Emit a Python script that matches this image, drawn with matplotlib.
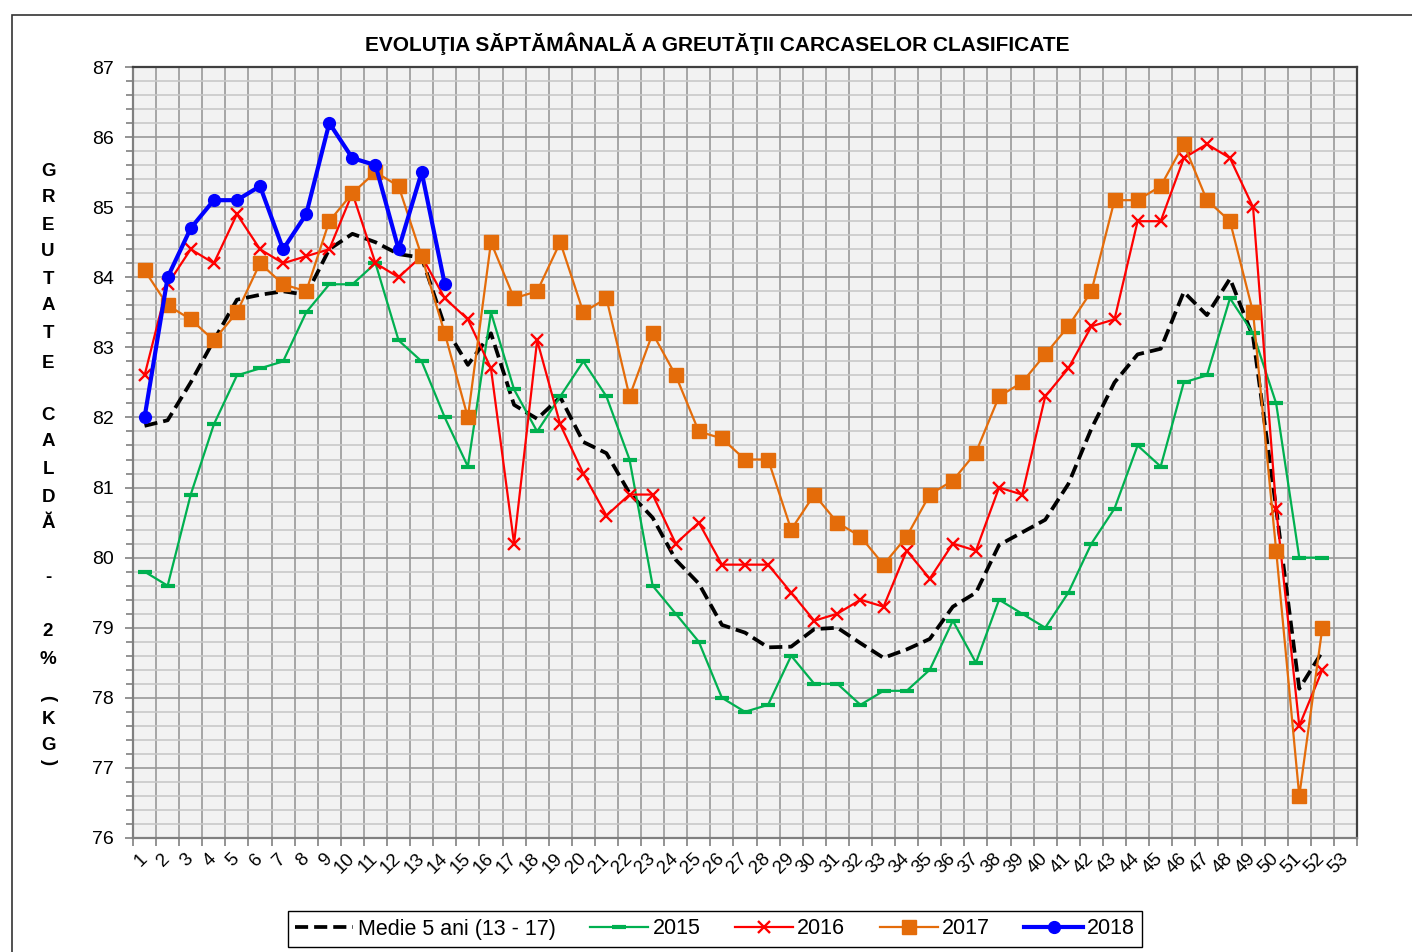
import matplotlib
matplotlib.use('Agg')
import matplotlib.pyplot as plt
from matplotlib.patches import Rectangle
from matplotlib.ticker import MultipleLocator, FixedLocator

plt.rcParams['font.family'] = ['Liberation Sans', 'DejaVu Sans']

saptamani = list(range(1, 53))
etichete_x = [str(i) for i in range(1, 54)]

medie = [81.88, 81.96, 82.5, 83.1, 83.68, 83.75, 83.8, 83.75, 84.4, 84.62,
         84.5, 84.33, 84.28, 83.3, 82.75, 83.2, 82.18, 81.98, 82.29, 81.65,
         81.49, 80.92, 80.57, 79.97, 79.63, 79.04, 78.93, 78.72, 78.73, 78.98,
         79.0, 78.78, 78.57, 78.69, 78.84, 79.3, 79.5, 80.18, 80.36, 80.54,
         81.05, 81.84, 82.5, 82.9, 82.98, 83.79, 83.46, 83.98, 83.15, 80.7,
         78.13, 78.66]
an2015 = [79.8, 79.6, 80.9, 81.9, 82.6, 82.7, 82.8, 83.5, 83.9, 83.9,
          84.2, 83.1, 82.8, 82.0, 81.3, 83.5, 82.4, 81.8, 82.3, 82.8,
          82.3, 81.4, 79.6, 79.2, 78.8, 78.0, 77.8, 77.9, 78.6, 78.2,
          78.2, 77.9, 78.1, 78.1, 78.4, 79.1, 78.5, 79.4, 79.2, 79.0,
          79.5, 80.2, 80.7, 81.6, 81.3, 82.5, 82.6, 83.7, 83.2, 82.2,
          80.0, 80.0]
an2016 = [82.6, 83.9, 84.4, 84.2, 84.9, 84.4, 84.2, 84.3, 84.4, 85.2,
          84.2, 84.0, 84.3, 83.7, 83.4, 82.7, 80.2, 83.1, 81.9, 81.2,
          80.6, 80.9, 80.9, 80.2, 80.5, 79.9, 79.9, 79.9, 79.5, 79.1,
          79.2, 79.4, 79.3, 80.1, 79.7, 80.2, 80.1, 81.0, 80.9, 82.3,
          82.7, 83.3, 83.4, 84.8, 84.8, 85.7, 85.9, 85.7, 85.0, 80.7,
          77.6, 78.4]
an2017 = [84.1, 83.6, 83.4, 83.1, 83.5, 84.2, 83.9, 83.8, 84.8, 85.2,
          85.5, 85.3, 84.3, 83.2, 82.0, 84.5, 83.7, 83.8, 84.5, 83.5,
          83.7, 82.3, 83.2, 82.6, 81.8, 81.7, 81.4, 81.4, 80.4, 80.9,
          80.5, 80.3, 79.9, 80.3, 80.9, 81.1, 81.5, 82.3, 82.5, 82.9,
          83.3, 83.8, 85.1, 85.1, 85.3, 85.9, 85.1, 84.8, 83.5, 80.1,
          76.6, 79.0]
an2018 = [82.0, 84.0, 84.7, 85.1, 85.1, 85.3, 84.4, 84.9, 86.2, 85.7,
          85.6, 84.4, 85.5, 83.9]

titlu = 'EVOLUŢIA SĂPTĂMÂNALĂ A GREUTĂŢII CARCASELOR CLASIFICATE'
eticheta_y = ['G', 'R', 'E', 'U', 'T', 'A', 'T', 'E', 'C', 'A', 'L', 'D', 'Ă',
              '-', '2', '%', '(', 'K', 'G', ')']
eticheta_y_px = [172, 198, 225, 252, 279, 306, 333, 363, 415, 442, 470, 497, 523,
                 577, 631, 660, 698, 720, 745, 762]

W, H = 1412, 952
fig = plt.figure(figsize=(W / 100, H / 100), dpi=100)
ax = fig.add_axes([133 / W, 1 - 838 / H, (1357 - 133) / W, (838 - 67) / H])
ax.set_facecolor('#F2F2F2')

# chenarul exterior al graficului
fig.patches.append(Rectangle((12 / W, -0.1), 1.2, 1 - 15 / H + 0.1, transform=fig.transFigure,
                             fill=False, edgecolor='#333333', linewidth=1.2))

ax.set_xlim(0.5, 53.5)
ax.set_ylim(76, 87)

# grila
ax.yaxis.set_major_locator(MultipleLocator(1))
ax.yaxis.set_minor_locator(MultipleLocator(0.2))
ax.xaxis.set_major_locator(FixedLocator([i + 0.5 for i in range(0, 54)]))
ax.xaxis.set_minor_locator(FixedLocator(list(range(1, 54))))
ax.grid(which='minor', axis='y', color='#C8C8C8', linewidth=1.2)
ax.grid(which='major', axis='y', color='#999999', linewidth=1.2)
ax.grid(which='major', axis='x', color='#999999', linewidth=1.2)
ax.set_axisbelow(True)

ax.tick_params(axis='y', which='major', direction='out', length=6, width=1.2, color='#808080',
               labelsize=14, pad=8)
ax.tick_params(axis='y', which='minor', direction='out', length=5, width=1.2, color='#808080')
ax.tick_params(axis='x', which='major', direction='out', length=6, width=1.2, color='#808080',
               labelbottom=False)
ax.tick_params(axis='x', which='minor', length=0, labelsize=13.5, pad=13)
ax.set_xticklabels(etichete_x, minor=True, rotation=45, ha='right', va='center',
                   rotation_mode='anchor')

for s in ['left', 'bottom']:
    ax.spines[s].set_color('#808080')
    ax.spines[s].set_linewidth(1.6)
for s in ['top', 'right']:
    ax.spines[s].set_color('#404040')
    ax.spines[s].set_linewidth(1.6)

ax.plot(saptamani, medie, color='black', linewidth=2.7, linestyle=(0, (3.5, 1.6)),
        label='Medie 5 ani (13 - 17)')
ax.plot(saptamani, an2015, color='#00B050', linewidth=1.6, marker='_', markersize=10.5,
        markeredgewidth=3, label='2015')
ax.plot(saptamani, an2016, color='#FF0000', linewidth=1.6, marker='x', markersize=8.5,
        markeredgewidth=1.7, label='2016')
ax.plot(saptamani, an2017, color='#E46C0A', linewidth=1.6, marker='s', markersize=9.5,
        label='2017')
ax.plot(saptamani[:len(an2018)], an2018, color='#0000FF', linewidth=3, marker='o',
        markersize=8.5, label='2018')

fig.text(717 / W, 1 - 44 / H, titlu, ha='center', va='center', fontsize=15,
         fontweight='bold')

for ch, ypx in zip(eticheta_y, eticheta_y_px):
    rot = -90 if ch in '()' else 0
    fig.text(48 / W, 1 - ypx / H, ch, ha='center', va='center', fontsize=13.5,
             fontweight='bold', rotation=rot)

leg = fig.legend(loc='center', bbox_to_anchor=(715 / W, 1 - 929 / H), ncol=5,
                 fontsize=15.5, frameon=True, fancybox=False, edgecolor='black',
                 framealpha=1, handlelength=2.7, handletextpad=0.2, columnspacing=1.6,
                 borderpad=0.35)
leg.get_frame().set_linewidth(1.0)

fig.savefig('out.png', dpi=100, facecolor='white')
